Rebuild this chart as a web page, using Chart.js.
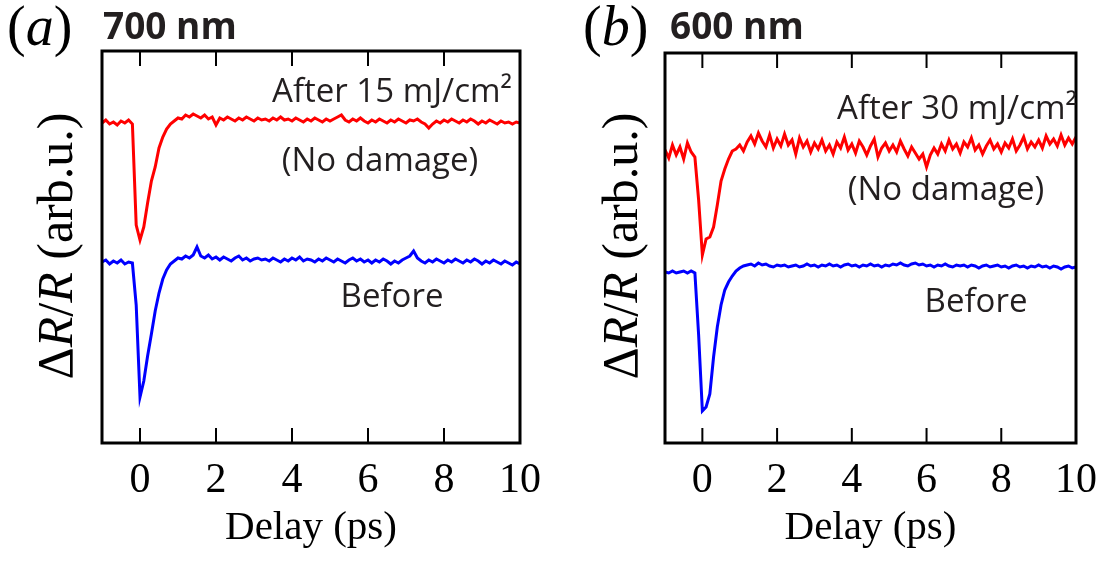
<!DOCTYPE html>
<html>
<head>
<meta charset="utf-8">
<script src="https://cdn.jsdelivr.net/npm/chart.js@4.4.1/dist/chart.umd.min.js"></script>
<style>
html, body { margin: 0; padding: 0; background: #fff; }
#wrap { position: relative; width: 1110px; height: 563px; }
canvas { position: absolute; top: 0; }
</style>
</head>
<body>
<div id="wrap">
  <canvas id="chartA" width="560" height="563" style="left:0"></canvas>
  <canvas id="chartB" width="550" height="563" style="left:560px"></canvas>
</div>
<script>
// delay axis (ps), same sampling for all four traces
var times = [-1.0,-0.9,-0.8,-0.7,-0.6,-0.5,-0.4,-0.3,-0.2,-0.1,
  0.0,0.1,0.2,0.3,0.4,0.5,0.6,0.7,0.8,0.9,1.0,1.1,1.2,1.3,1.4,1.5,1.6,1.7,1.8,1.9,
  2.0,2.1,2.2,2.3,2.4,2.5,2.6,2.7,2.8,2.9,3.0,3.1,3.2,3.3,3.4,3.5,3.6,3.7,3.8,3.9,
  4.0,4.1,4.2,4.3,4.4,4.5,4.6,4.7,4.8,4.9,5.0,5.1,5.2,5.3,5.4,5.5,5.6,5.7,5.8,5.9,
  6.0,6.1,6.2,6.3,6.4,6.5,6.6,6.7,6.8,6.9,7.0,7.1,7.2,7.3,7.4,7.5,7.6,7.7,7.8,7.9,
  8.0,8.1,8.2,8.3,8.4,8.5,8.6,8.7,8.8,8.9,9.0,9.1,9.2,9.3,9.4,9.5,9.6,9.7,9.8,9.9,10.0];
var xTicks = [0, 2, 4, 6, 8, 10];

// (a) 700 nm
var redA = [32.0,32.3,31.9,32.1,31.8,32.2,32.0,32.3,31.9,21.8,
  20.3,21.6,24.0,26.2,27.6,29.5,30.6,31.4,31.9,32.2,32.5,32.4,32.8,32.6,32.9,32.7,32.5,32.8,32.4,32.6,
  31.8,32.5,32.3,32.6,32.4,32.2,32.5,32.3,32.6,32.4,32.2,32.5,32.3,32.4,32.2,32.5,32.3,32.6,32.3,32.4,
  32.2,32.5,32.3,32.1,32.4,32.2,32.5,32.3,32.1,32.4,32.2,32.4,32.6,32.8,32.3,32.1,32.4,32.2,32.5,32.2,
  32.0,32.3,32.1,32.4,32.2,32.0,32.3,32.1,32.4,32.2,32.0,32.3,32.2,32.4,32.1,31.9,31.5,31.9,32.2,32.0,
  32.3,32.1,32.4,32.2,32.0,32.3,32.1,32.4,32.2,31.9,32.2,32.0,32.3,32.1,31.9,32.2,32.0,32.1,31.9,32.1,32.0];
var blueA = [18.1,18.3,17.9,18.2,18.0,18.3,17.9,18.1,18.0,13.8,
  4.6,6.2,8.7,10.9,13.2,15.0,16.4,17.3,17.9,18.2,18.5,18.4,18.7,18.5,18.8,19.6,18.7,18.5,18.8,18.4,
  18.6,18.3,18.6,18.4,18.2,18.5,18.7,18.3,18.5,18.2,18.4,18.5,18.3,18.4,18.2,18.5,18.3,18.1,18.4,18.2,
  18.5,18.3,18.6,18.2,18.4,18.3,18.1,18.4,18.2,18.5,18.3,18.1,18.4,18.2,18.0,18.3,18.5,18.2,18.4,18.1,
  18.3,18.0,18.3,18.1,18.4,18.2,17.9,18.2,18.0,18.3,18.5,18.7,19.2,18.5,18.2,18.0,18.3,18.1,18.4,18.2,
  18.0,18.3,18.1,18.4,18.2,18.0,18.3,18.1,18.4,18.2,17.9,18.2,18.0,18.3,18.1,17.9,18.2,18.0,17.8,18.1,17.9];

// (b) 600 nm
var redB = [29.3,28.5,29.8,28.8,29.6,28.4,30.0,29.1,28.6,24.3,
  18.8,20.4,20.6,21.6,23.8,26.2,27.4,28.4,29.2,29.4,29.8,29.2,30.1,30.7,29.9,31.0,30.2,29.6,30.8,29.5,
  30.4,29.7,30.9,29.8,30.3,28.9,30.5,29.6,30.2,29.1,30.0,29.4,30.3,29.2,29.8,28.9,30.1,29.5,30.6,29.3,
  29.9,29.0,30.2,29.6,28.8,29.7,30.4,28.6,29.5,30.0,29.2,29.8,29.1,30.2,29.4,28.7,29.6,29.0,28.4,28.9,
  27.6,28.8,29.5,28.9,29.9,29.2,30.3,29.4,29.9,29.0,30.1,29.6,30.5,29.3,29.8,28.9,29.7,30.3,29.4,29.9,
  29.1,30.0,29.5,30.4,29.2,29.8,30.6,29.4,30.1,29.6,30.3,29.5,30.7,29.9,30.4,29.7,30.8,29.8,30.5,29.9,30.6];
var blueB = [17.1,17.0,17.2,17.0,17.1,17.2,17.0,17.2,17.0,10.8,
  3.2,3.6,4.9,8.6,11.6,13.8,15.3,16.1,16.7,17.2,17.5,17.7,17.8,17.9,17.7,18.0,17.8,17.9,17.7,17.6,
  17.8,17.7,17.8,17.6,17.7,17.8,17.6,17.7,17.9,17.7,17.8,17.6,17.8,17.7,17.9,17.7,17.8,17.6,17.8,17.9,
  17.7,17.8,17.6,17.8,17.7,17.9,17.7,17.8,17.6,17.8,17.7,17.9,17.8,18.0,17.8,17.7,17.9,18.0,17.8,17.9,
  17.7,17.8,17.6,17.8,17.7,17.9,17.7,17.6,17.8,17.7,17.8,17.6,17.8,17.7,17.5,17.7,17.8,17.6,17.7,17.8,
  17.6,17.7,17.5,17.7,17.8,17.6,17.7,17.5,17.7,17.6,17.8,17.6,17.7,17.5,17.7,17.6,17.4,17.6,17.7,17.5,17.6];

var SERIF = '"Liberation Serif", "Times New Roman", serif';
var SANS = '"Open Sans", "Noto Sans", sans-serif';
var TEXT_GREY = '#231f20';

function toPoints(ys) {
    var pts = [];
    for (var i = 0; i < times.length; i++) {
        pts.push({x: times[i], y: ys[i]});
    }
    return pts;
}

// text made of upright / italic pieces, e.g. "ΔR/R"
function drawMixed(ctx, parts, x, y, size, align) {
    var w = 0, i;
    for (i = 0; i < parts.length; i++) {
        ctx.font = (parts[i][1] ? 'italic ' : '') + size + 'px ' + SERIF;
        w += ctx.measureText(parts[i][0]).width;
    }
    var cx = align === 'center' ? x - w / 2 : x;
    for (i = 0; i < parts.length; i++) {
        ctx.font = (parts[i][1] ? 'italic ' : '') + size + 'px ' + SERIF;
        ctx.fillText(parts[i][0], cx, y);
        cx += ctx.measureText(parts[i][0]).width;
    }
}

// box around the plot and inward ticks on top and bottom
var framePlugin = {
    id: 'frame',
    afterDatasetsDraw: function(chart) {
        var ctx = chart.ctx, a = chart.chartArea, xs = chart.scales.x;
        ctx.save();
        ctx.strokeStyle = '#000';
        ctx.lineWidth = 2;
        xTicks.forEach(function(v) {
            var px = xs.getPixelForValue(v);
            ctx.beginPath();
            ctx.moveTo(px, a.bottom);
            ctx.lineTo(px, a.bottom - 15);
            ctx.moveTo(px, a.top);
            ctx.lineTo(px, a.top + 15);
            ctx.stroke();
        });
        ctx.lineWidth = 3;
        ctx.strokeRect(a.left, a.top, a.right - a.left, a.bottom - a.top);
        ctx.restore();
    }
};

// panel letter, wavelength, y label and the curve notes
var notesPlugin = {
    id: 'notes',
    afterDraw: function(chart, args, opts) {
        var ctx = chart.ctx;
        ctx.save();
        ctx.textBaseline = 'alphabetic';
        ctx.fillStyle = '#000';
        drawMixed(ctx, [['(', false], [opts.letter, true], [')', false]], opts.letterX, 45, 56, 'left');
        ctx.font = 'bold 37px ' + SANS;
        ctx.textAlign = 'left';
        ctx.fillStyle = '#231f20';
        ctx.fillText(opts.title, opts.titleX, 39);

        ctx.save();
        ctx.fillStyle = '#000';
        ctx.translate(opts.yLabelX, 246);
        ctx.rotate(-Math.PI / 2);
        drawMixed(ctx, [['\u0394', false], ['R', true], ['/', false], ['R', true], [' (arb.u.)', false]], 0, 0, 50, 'center');
        ctx.restore();

        ctx.fillStyle = TEXT_GREY;
        ctx.font = '33px ' + SANS;
        opts.items.forEach(function(it) {
            ctx.textAlign = it.align;
            ctx.fillText(it.text, it.x, it.y);
        });
        ctx.restore();
    }
};

function makeChart(id, red, blue, padRight, padTop, padLeft, notes) {
    new Chart(document.getElementById(id), {
        type: 'line',
        data: {
            datasets: [
                { data: toPoints(red), borderColor: '#ff0000', borderWidth: 3, pointRadius: 0, tension: 0 },
                { data: toPoints(blue), borderColor: '#0000ff', borderWidth: 3, pointRadius: 0, tension: 0 }
            ]
        },
        options: {
            responsive: false,
            animation: false,
            devicePixelRatio: 1,
            layout: { padding: { left: padLeft, right: padRight, top: padTop, bottom: 0 } },
            plugins: { legend: { display: false }, tooltip: { enabled: false }, notes: notes },
            scales: {
                x: {
                    type: 'linear',
                    min: -1,
                    max: 10,
                    afterBuildTicks: function(s) { s.ticks = xTicks.map(function(v) { return {value: v}; }); },
                    afterFit: function(s) { s.height = 120; },
                    grid: { display: false, drawTicks: false },
                    border: { display: false },
                    ticks: { padding: 13, color: '#000', font: { family: SERIF, size: 42 }, maxRotation: 0 },
                    title: { display: true, text: 'Delay (ps)', color: '#000', font: { family: SERIF, size: 41 }, padding: { top: 0, bottom: 10 } }
                },
                y: {
                    display: false,
                    min: 0,
                    max: (443 - padTop) / 10
                }
            }
        },
        plugins: [framePlugin, notesPlugin]
    });
}

makeChart('chartA', redA, blueA, 40, 51, 102, {
    letter: 'a', letterX: 7, title: '700 nm', titleX: 103, yLabelX: 72,
    items: [
        { text: 'After 15 mJ/cm\u00b2', x: 512, y: 102, align: 'right' },
        { text: '(No damage)', x: 380, y: 171, align: 'center' },
        { text: 'Before', x: 392, y: 307, align: 'center' }
    ]
});
makeChart('chartB', redB, blueB, 27, 53, 105, {
    letter: 'b', letterX: 23, title: '600 nm', titleX: 110, yLabelX: 77,
    items: [
        { text: 'After 30 mJ/cm\u00b2', x: 517, y: 119, align: 'right' },
        { text: '(No damage)', x: 386, y: 200, align: 'center' },
        { text: 'Before', x: 416, y: 312, align: 'center' }
    ]
});
</script>
</body>
</html>
